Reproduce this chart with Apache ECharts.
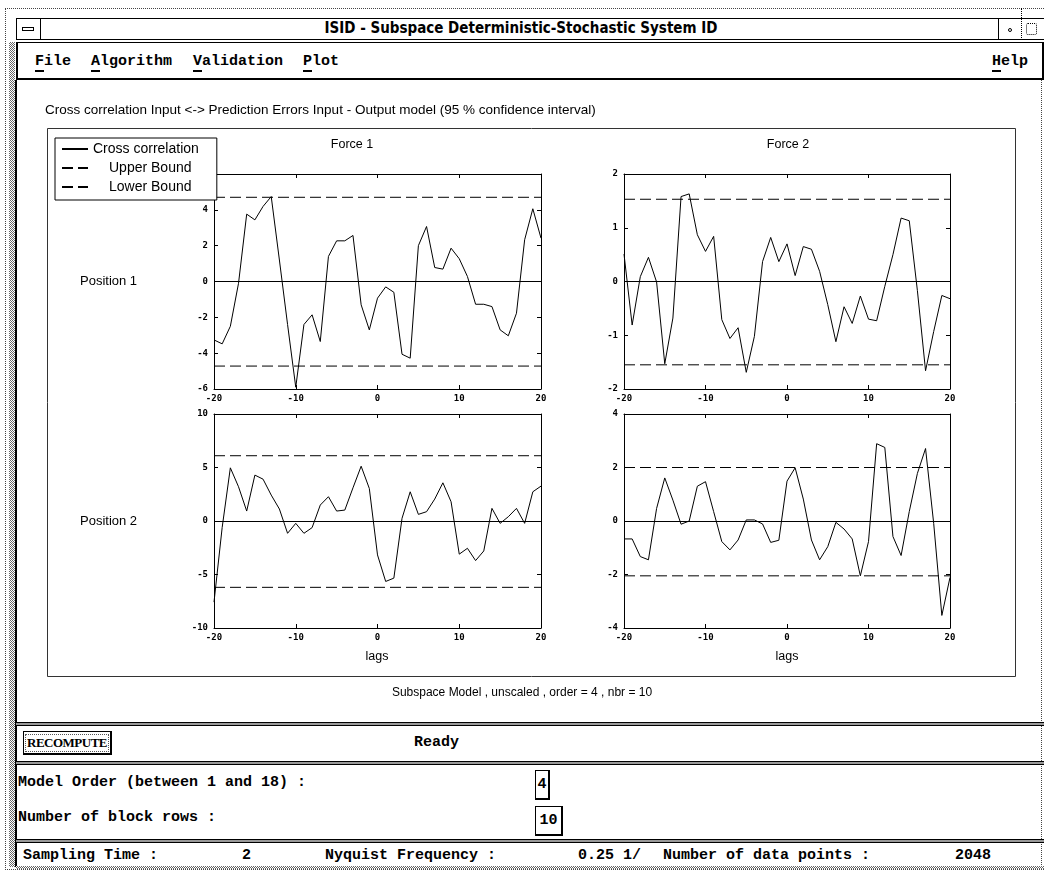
<!DOCTYPE html>
<html>
<head>
<meta charset="utf-8">
<title>ISID - Cross correlation</title>
<script src="https://cdn.jsdelivr.net/npm/echarts/dist/echarts.min.js"></script>
<style>
  html, body { margin: 0; padding: 0; background: #fff; }
  body { width: 1044px; height: 873px; position: relative; overflow: hidden;
         font-family: "Liberation Mono", "DejaVu Sans Mono", monospace; font-weight: bold; color: #000; }
  .abs { position: absolute; box-sizing: border-box; }
  .stip { background: repeating-conic-gradient(#666 0 25%, #fff 0 50%) 0 0/2px 2px; }
  .sep { height: 4px; border-top: 1px solid #000; border-bottom: 1px solid #000; background: #999; }
  .lbl { position: absolute; font-size: 15px; line-height: 16px; white-space: pre; }
  .menu u { text-decoration: none; border-bottom: 2px solid #000; }
  .box { position: absolute; box-sizing: border-box; border: 1px solid #000; border-right-width: 2px; border-bottom-width: 2px;
         font-size: 15px; text-align: center; }
  #chart { position: absolute; left: 0; top: 0; width: 1044px; height: 873px; z-index: 5; }
</style>
</head>
<body>
<!-- window frame -->
<div class="abs" style="left:5px;top:8px;width:1039px;height:862px;border:1px dotted #444;border-right:none"></div>
<div class="abs stip" style="left:9px;top:42px;width:6px;height:825px"></div>
<div class="abs" style="left:16px;top:18px;width:1028px;height:22px;border:1px solid #000;border-right:none"></div>
<div class="abs" style="left:16px;top:18px;width:1010px;height:22px;
     font-family:'Liberation Sans Narrow','DejaVu Sans Condensed',sans-serif;font-weight:bold;font-size:15px;line-height:21px;text-align:center">ISID - Subspace Deterministic-Stochastic System ID</div>
<div class="abs" style="left:16px;top:18px;width:25px;height:22px;border:1px solid #000"></div>
<div class="abs" style="left:22px;top:27px;width:12px;height:4px;border:1px solid #000"></div>
<div class="abs" style="left:998px;top:18px;width:23px;height:22px;border-left:1px solid #000"></div>
<div class="abs" style="left:1008px;top:28px;width:4px;height:4px;border:1px solid #000;border-radius:2px"></div>
<div class="abs" style="left:1021px;top:8px;width:2px;height:32px;border-left:1px dotted #000"></div>
<div class="abs" style="left:1026px;top:23px;width:11px;height:12px;border:1px dotted #000;border-radius:2px"></div>
<!-- menu bar -->
<div class="abs" style="left:16px;top:42px;width:1028px;height:38px;border:1px solid #000;border-width:1px 2px 2px 2px"></div>
<div class="lbl menu" style="left:35px;top:54px"><u>F</u>ile</div>
<div class="lbl menu" style="left:91px;top:54px"><u>A</u>lgorithm</div>
<div class="lbl menu" style="left:193px;top:54px"><u>V</u>alidation</div>
<div class="lbl menu" style="left:303px;top:54px"><u>P</u>lot</div>
<div class="lbl menu" style="left:992px;top:54px"><u>H</u>elp</div>
<!-- inner window side lines -->
<div class="abs" style="left:15px;top:80px;width:2px;height:787px;background:#000"></div>
<div class="abs" style="left:1041px;top:80px;width:1px;height:787px;border-left:1px dotted #444"></div>
<!-- bottom panel -->
<div class="abs sep" style="left:16px;top:722px;width:1028px"></div>
<div class="box" style="left:23px;top:731px;width:89px;height:24px;padding-top:2px">
  <div style="border:1px dotted #555;margin:0 1px;font-family:'Liberation Serif',serif;font-size:13px;line-height:16px;letter-spacing:-0.5px">RECOMPUTE</div></div>
<div class="lbl" style="left:414px;top:735px">Ready</div>
<div class="abs sep" style="left:16px;top:761px;width:1028px"></div>
<div class="lbl" style="left:18px;top:775px">Model Order (between 1 and 18) :</div>
<div class="box" style="left:535px;top:770px;width:15px;height:30px;line-height:27px">4</div>
<div class="lbl" style="left:18px;top:810px">Number of block rows :</div>
<div class="box" style="left:535px;top:806px;width:28px;height:30px;line-height:27px">10</div>
<div class="abs sep" style="left:16px;top:839px;width:1028px"></div>
<div class="lbl" style="left:23px;top:848px">Sampling Time :</div>
<div class="lbl" style="left:242px;top:848px">2</div>
<div class="lbl" style="left:325px;top:848px">Nyquist Frequency :</div>
<div class="lbl" style="left:578px;top:848px">0.25 1/</div>
<div class="lbl" style="left:663px;top:848px">Number of data points :</div>
<div class="lbl" style="left:955px;top:848px">2048</div>
<div class="abs stip" style="left:16px;top:866px;width:1028px;height:3px"></div>

<div id="chart"></div>

<script type="text/javascript">
// lags on the x axis
var lags = [-20, -19, -18, -17, -16, -15, -14, -13, -12, -11, -10, -9, -8, -7, -6, -5, -4, -3, -2, -1, 0,
            1, 2, 3, 4, 5, 6, 7, 8, 9, 10, 11, 12, 13, 14, 15, 16, 17, 18, 19, 20];

// cross correlations
var pos1Force1 = [-3.26, -3.48, -2.5, -0.1, 3.76, 3.44, 4.19, 4.74, 1.2, -2.4, -5.9, -2.4, -1.86, -3.35, 1.4, 2.27, 2.27, 2.57, -1.3, -2.7, -0.93,
                  -0.3, -0.6, -4.06, -4.28, 2.0, 3.07, 0.78, 0.69, 1.86, 1.27, 0.28, -1.27, -1.27, -1.4, -2.7, -3.03, -1.77, 2.33, 4.06, 2.42];
var pos1Force2 = [0.51, -0.81, 0.09, 0.45, -0.01, -1.53, -0.68, 1.58, 1.63, 0.87, 0.56, 0.84, -0.71, -1.06, -0.86, -1.69, -1.02, 0.37, 0.82, 0.37, 0.7,
                  0.11, 0.65, 0.6, 0.19, -0.43, -1.12, -0.47, -0.78, -0.27, -0.7, -0.73, -0.09, 0.5, 1.18, 1.13, -0.17, -1.66, -0.93, -0.26, -0.32];
var pos2Force1 = [-7.58, -0.6, 4.97, 3.2, 0.93, 4.29, 3.91, 2.42, 1.12, -1.15, -0.22, -1.15, -0.62, 1.49, 2.27, 0.93, 1.02, 3.1, 5.12, 3.04, -3.17,
                  -5.65, -5.34, 0.25, 2.73, 0.62, 0.87, 2.05, 3.57, 1.8, -3.1, -2.55, -3.7, -2.8, 1.18, -0.22, 0.4, 1.18, -0.22, 2.73, 3.26];
var pos2Force2 = [-0.67, -0.67, -1.33, -1.45, 0.47, 1.61, 0.78, -0.12, 0.0, 1.3, 1.47, 0.35, -0.77, -1.08, -0.71, 0.04, 0.04, -0.11, -0.8, -0.72, 1.49,
                  1.99, 0.82, -0.71, -1.45, -0.96, -0.05, -0.3, -0.67, -2.05, -0.77, 2.89, 2.75, -0.58, -1.29, 0.35, 1.78, 2.71, -0.09, -3.53, -2.11];

// 95% confidence bounds per panel (TL, TR, BL, BR)
var upperBound = [4.7, 1.53, 6.1, 2.0];
var lowerBound = [-4.72, -1.55, -6.2, -2.05];

// y axis ranges per panel
var yMin = [-6, -2, -10, -4];
var yMax = [6, 2, 10, 4];
var yStep = [2, 1, 5, 2];

var colTitles = ["Force 1", "Force 2"];
var rowTitles = ["Position 1", "Position 2"];
var legendNames = ["Cross correlation", "Upper Bound", "Lower Bound"];

var panels = [pos1Force1, pos1Force2, pos2Force1, pos2Force2];
var boxes = [
  { left: 214, top: 174, width: 327, height: 215 },
  { left: 624, top: 174, width: 326, height: 215 },
  { left: 214, top: 414, width: 327, height: 214 },
  { left: 624, top: 414, width: 326, height: 214 }
];

var tickFont = { color: "#000", fontFamily: "DejaVu Sans Mono", fontSize: 9, fontWeight: "bold" };
var sans = "'Liberation Sans', Arial, sans-serif";

var chart = echarts.init(document.getElementById("chart"), null, { renderer: "canvas" });

var grid = [], xAxis = [], yAxis = [], series = [];
panels.forEach(function (vals, i) {
  grid.push({ left: boxes[i].left, top: boxes[i].top, width: boxes[i].width, height: boxes[i].height, show: false });
  var axLine = { show: true, onZero: false, lineStyle: { color: "#000", width: 1 } };
  var tick = { show: true, inside: true, length: 4, lineStyle: { color: "#000" } };
  // bottom x axis with labels, top x axis just for the frame + ticks
  xAxis.push({ type: "value", gridIndex: i, position: "bottom", min: -20, max: 20, interval: 10,
    axisLine: axLine, axisTick: tick, splitLine: { show: false }, axisLabel: Object.assign({ margin: 5 }, tickFont) });
  xAxis.push({ type: "value", gridIndex: i, position: "top", min: -20, max: 20, interval: 10,
    axisLine: axLine, axisTick: tick, splitLine: { show: false }, axisLabel: { show: false } });
  yAxis.push({ type: "value", gridIndex: i, position: "left", min: yMin[i], max: yMax[i], interval: yStep[i],
    axisLine: axLine, axisTick: tick, splitLine: { show: false }, axisLabel: Object.assign({ margin: 6 }, tickFont) });
  yAxis.push({ type: "value", gridIndex: i, position: "right", min: yMin[i], max: yMax[i], interval: yStep[i],
    axisLine: axLine, axisTick: tick, splitLine: { show: false }, axisLabel: { show: false } });

  series.push({
    name: legendNames[0], type: "line", xAxisIndex: 2 * i, yAxisIndex: 2 * i,
    data: lags.map(function (l, k) { return [l, vals[k]]; }),
    symbol: "none", showSymbol: false, animation: false,
    lineStyle: { color: "#000", width: 1 }, itemStyle: { color: "#000" },
    markLine: {
      silent: true, symbol: ["none", "none"], label: { show: false },
      lineStyle: { color: "#000", type: "solid", width: 1 },
      data: [{ yAxis: 0 }]
    }
  });
  series.push({
    name: legendNames[1], type: "line", xAxisIndex: 2 * i, yAxisIndex: 2 * i,
    data: [[lags[0], upperBound[i]], [lags[lags.length - 1], upperBound[i]]],
    symbol: "none", showSymbol: false, animation: false,
    lineStyle: { color: "#000", width: 1, type: [11, 5] }, itemStyle: { color: "#000" }
  });
  series.push({
    name: legendNames[2], type: "line", xAxisIndex: 2 * i, yAxisIndex: 2 * i,
    data: [[lags[0], lowerBound[i]], [lags[lags.length - 1], lowerBound[i]]],
    symbol: "none", showSymbol: false, animation: false,
    lineStyle: { color: "#000", width: 1, type: [11, 5] }, itemStyle: { color: "#000" }
  });
});

function txt(s, x, y, align, size) {
  return { type: "text", silent: true, z: 1,
    style: { text: s, x: x, y: y, font: (size || 12) + "px " + sans, fill: "#000",
             textAlign: align || "left", align: align || "left", textVerticalAlign: "middle", verticalAlign: "middle" } };
}

var option = {
  animation: false,
  grid: grid,
  xAxis: xAxis,
  yAxis: yAxis,
  series: series,
  legend: {
    data: legendNames, orient: "vertical", left: 55, top: 138, z: 10,
    backgroundColor: "#fff", borderColor: "#000", borderWidth: 1, borderRadius: 0,
    padding: [4, 18, 6, 6], itemGap: 5, itemWidth: 26, itemHeight: 12, selectedMode: false,
    itemStyle: { opacity: 0 },
    // the bound names sit further right in the original box
    formatter: function (n) { return n === legendNames[0] ? "{a|" + n + "}" : "{b|" + n + "}"; },
    textStyle: { rich: {
      a: { fontFamily: "Liberation Sans", fontSize: 14, lineHeight: 14, color: "#000", padding: [0, 0, 0, 0] },
      b: { fontFamily: "Liberation Sans", fontSize: 14, lineHeight: 14, color: "#000", padding: [0, 0, 0, 16] }
    } }
  },
  graphic: [
    { type: "rect", silent: true, z: 0, shape: { x: 47.5, y: 128.5, width: 968, height: 548 },
      style: { fill: "none", stroke: "#333", lineWidth: 1 } },
    txt("Cross correlation Input <-> Prediction Errors Input - Output model (95 % confidence interval)", 45, 110, "left", 13.5),
    txt(colTitles[0], 352, 145, "center", 12.5),
    txt(colTitles[1], 788, 145, "center", 12.5),
    txt(rowTitles[0], 80, 281, "left", 13),
    txt(rowTitles[1], 80, 521, "left", 13),
    txt("lags", 377, 657, "center", 12.5),
    txt("lags", 787, 657, "center", 12.5),
    txt("Subspace Model , unscaled , order = 4 , nbr = 10", 522, 693, "center")
  ]
};
chart.setOption(option);
</script>
</body>
</html>
